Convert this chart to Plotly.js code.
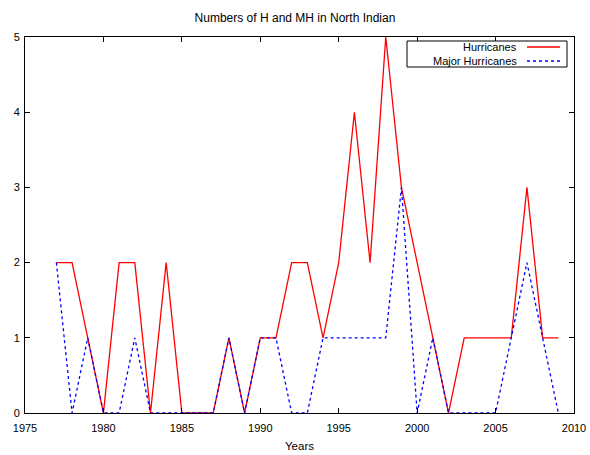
<!DOCTYPE html>
<html><head><meta charset="utf-8">
<script src="https://cdn.plot.ly/plotly-3.0.1.min.js"></script>
<style>html,body{margin:0;padding:0;background:#fff}#c{width:590px;height:455px}</style>
</head><body><div id="c"></div>
<script>
const years = [1977,1978,1979,1980,1981,1982,1983,1984,1985,1986,1987,1988,1989,1990,1991,1992,1993,1994,1995,1996,1997,1998,1999,2000,2001,2002,2003,2004,2005,2006,2007,2008,2009];
const hurricanes = [2,2,1,0,2,2,0,2,0,0,0,1,0,1,1,2,2,1,2,4,2,5,3,2,1,0,1,1,1,1,3,1,1];
const majorHurricanes = [2,0,1,0,0,1,0,0,0,0,0,1,0,1,1,0,0,1,1,1,1,1,3,0,1,0,0,0,0,1,2,1,0];
const seriesNames = ["Hurricanes","Major Hurricanes"];
const titleText = "Numbers of H and MH in North Indian";

const L=25,R=574,T=37,B=413;
const px=x=>(x-L)/(R-L), py=y=>(B-y)/(B-T);
const font={family:"Liberation Sans, Arial, sans-serif",size:11,color:"#000"};
const axisCommon={showline:true,linecolor:"#000",linewidth:1,mirror:"ticks",ticks:"inside",ticklen:5,tickcolor:"#000",showgrid:false,zeroline:false,tickfont:font};

Plotly.newPlot("c",[
 {x:years,y:hurricanes,type:"scatter",mode:"lines",name:seriesNames[0],line:{color:"#ff0000",width:1.3},showlegend:false},
 {x:years,y:majorHurricanes,type:"scatter",mode:"lines",name:seriesNames[1],line:{color:"#0000ff",width:1.3,dash:"3px,3px"},showlegend:false}
],{
 width:590,height:455,
 margin:{l:L,r:590-R,t:T,b:455-B},
 paper_bgcolor:"#fff",plot_bgcolor:"#fff",
 font:font,
 title:{text:titleText,font:Object.assign({},font,{size:12}),x:0.5,xanchor:"center",y:1-18/455,yanchor:"middle"},
 xaxis:Object.assign({},axisCommon,{range:[1975,2010],tick0:1975,dtick:5,ticklabelstandoff:5,title:{text:"Years",font:Object.assign({},font,{size:11.5}),standoff:8}}),
 yaxis:Object.assign({},axisCommon,{range:[0,5],dtick:1,ticklabelstandoff:2}),
 shapes:[
  {type:"rect",xref:"paper",yref:"paper",x0:px(407),x1:px(567),y0:py(67),y1:py(41),line:{color:"#000",width:1},fillcolor:"#fff",layer:"above"},
  {type:"line",xref:"paper",yref:"paper",x0:px(527),x1:px(560),y0:py(47),y1:py(47),line:{color:"#ff0000",width:1.3}},
  {type:"line",xref:"paper",yref:"paper",x0:px(527),x1:px(560),y0:py(61),y1:py(61),line:{color:"#0000ff",width:1.3,dash:"3px,3px"}}
 ],
 annotations:[
  {xref:"paper",yref:"paper",x:px(519),y:py(47),xanchor:"right",yanchor:"middle",text:seriesNames[0],showarrow:false,font:font},
  {xref:"paper",yref:"paper",x:px(519),y:py(61),xanchor:"right",yanchor:"middle",text:seriesNames[1],showarrow:false,font:font}
 ]
},{displayModeBar:false,staticPlot:true});
</script></body></html>
